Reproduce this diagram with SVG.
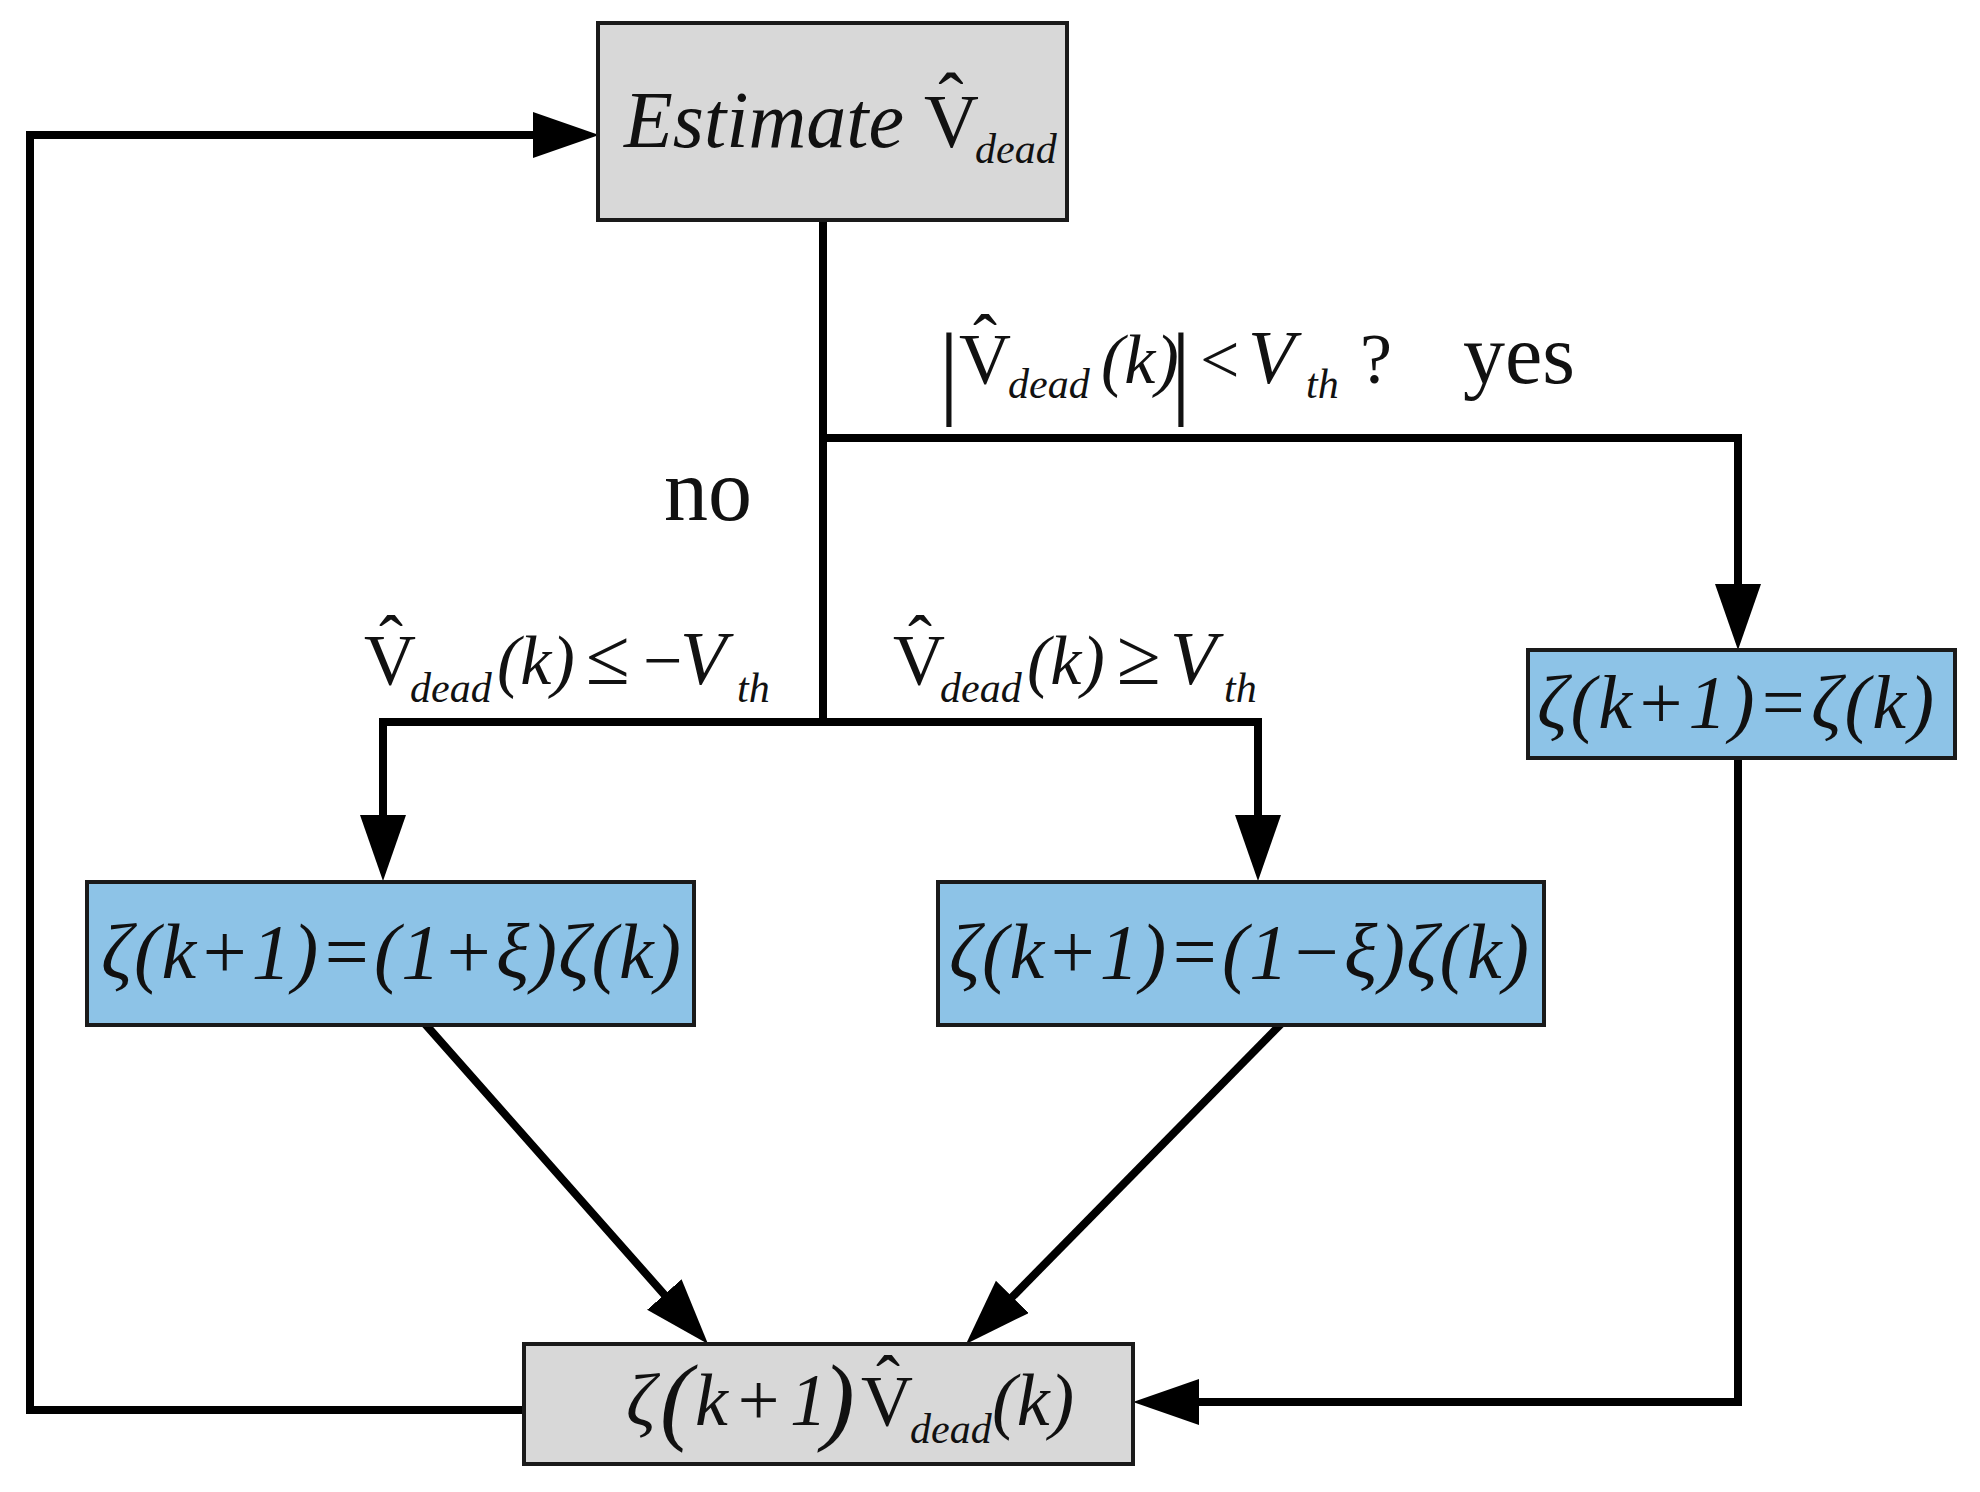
<svg xmlns="http://www.w3.org/2000/svg" width="1980" height="1492" viewBox="0 0 1980 1492">
<style>
.mi{font-family:"Liberation Serif",serif;font-style:italic;fill:#111}
.mo{font-family:"Liberation Serif",serif;font-style:normal;fill:#111}
.up{font-style:normal}
.it{font-style:italic}
.gray{fill:#d8d8d8;stroke:#1a1a1a;stroke-width:4}
.blue{fill:#8dc3e7;stroke:#1a1a1a;stroke-width:4}
.conn{fill:none;stroke:#000;stroke-width:8;stroke-linejoin:miter;stroke-linecap:square}
</style>
<defs>
<marker id="ah" markerUnits="userSpaceOnUse" markerWidth="70" markerHeight="50" refX="6" refY="23" orient="auto">
<path d="M0,0 L66,23 L0,46 z" fill="#000"/>
</marker>
</defs>
<rect width="1980" height="1492" fill="#fff"/>
<g id="connectors">
<path class="conn" d="M823,220 V722"/>
<path class="conn" d="M823,438 H1738 V590" marker-end="url(#ah)"/>
<path class="conn" d="M823,722 H383 V821" marker-end="url(#ah)"/>
<path class="conn" d="M823,722 H1258 V821" marker-end="url(#ah)"/>
<path class="conn" d="M426,1025 L668.3,1299.1" marker-end="url(#ah)"/>
<path class="conn" d="M1280,1025 L1008.1,1301.2" marker-end="url(#ah)"/>
<path class="conn" d="M1738,758 V1402 H1193" marker-end="url(#ah)"/>
<path class="conn" d="M524,1410 H30 V135 H539" marker-end="url(#ah)"/>
</g>
<g id="labels">
<text id="cond" class="mo" y="383" font-size="72"><tspan x="949" y="405" font-size="104" text-anchor="middle">|</tspan><tspan x="959" y="383" font-size="72">V</tspan><tspan x="985" y="364" font-size="72" text-anchor="middle">ˆ</tspan><tspan class="it" x="1008" y="398" font-size="42">dead</tspan><tspan class="it" x="1101" y="383" font-size="70">(k)</tspan><tspan x="1181" y="405" font-size="104" text-anchor="middle">|</tspan><tspan x="1200" y="383" font-size="70">&lt;</tspan><tspan class="it" x="1248" font-size="76">V</tspan><tspan class="it" x="1306" y="398" font-size="42">th</tspan><tspan x="1360" y="383" font-size="72">?</tspan></text>
<text class="mo" x="1463" y="383" font-size="84">yes</text>
<text class="mo" x="664" y="520" font-size="88">no</text>
<text id="lbl-left" class="mo" y="684" font-size="72"><tspan x="364">V</tspan><tspan x="391" y="665" text-anchor="middle">ˆ</tspan><tspan class="it" x="410" y="702" font-size="42">dead</tspan><tspan class="it" x="497" y="684" font-size="70">(k)</tspan><tspan x="586" font-size="80">≤</tspan><tspan x="643" font-size="70">−</tspan><tspan class="it" x="680" font-size="76">V</tspan><tspan class="it" x="737" y="702" font-size="42">th</tspan></text>
<text id="lbl-right" class="mo" y="684" font-size="72"><tspan x="893">V</tspan><tspan x="920" y="665" text-anchor="middle">ˆ</tspan><tspan class="it" x="940" y="702" font-size="42">dead</tspan><tspan class="it" x="1027" y="684" font-size="70">(k)</tspan><tspan x="1117" font-size="80">≥</tspan><tspan class="it" x="1170" font-size="76">V</tspan><tspan class="it" x="1224" y="702" font-size="42">th</tspan></text>
</g>
<g id="node-estimate">
<rect class="gray" x="598" y="23" width="469" height="197"/>
<text class="mo" y="147" font-size="80"><tspan class="it" x="624">Estimate</tspan><tspan x="924" font-size="76">V</tspan><tspan x="951" y="126" font-size="76" text-anchor="middle">ˆ</tspan><tspan class="it" x="975" y="163" font-size="42">dead</tspan></text>
</g>
<g id="node-same">
<rect class="blue" x="1528" y="650" width="427" height="108"/>
<text class="mi" x="1537" y="728" font-size="76" textLength="397" lengthAdjust="spacing">ζ(k+1)=ζ(k)</text>
</g>
<g id="node-increase">
<rect class="blue" x="87" y="882" width="607" height="143"/>
<text class="mi" x="101" y="978" font-size="78" textLength="580" lengthAdjust="spacing">ζ(k+1)=(1+ξ)ζ(k)</text>
</g>
<g id="node-decrease">
<rect class="blue" x="938" y="882" width="606" height="143"/>
<text class="mi" x="949" y="978" font-size="78" textLength="580" lengthAdjust="spacing">ζ(k+1)=(1−ξ)ζ(k)</text>
</g>
<g id="node-output">
<rect class="gray" x="524" y="1344" width="609" height="120"/>
<text class="mi" y="1425" font-size="74"><tspan x="626">ζ</tspan><tspan x="660" y="1432" font-size="98">(</tspan><tspan x="695" y="1425" font-size="74">k</tspan><tspan x="733">+</tspan><tspan x="790">1</tspan><tspan x="822" y="1432" font-size="98">)</tspan><tspan class="up" x="861" y="1425" font-size="72">V</tspan><tspan class="up" x="888" y="1405" font-size="72" text-anchor="middle">ˆ</tspan><tspan x="910" y="1443" font-size="42">dead</tspan><tspan x="992" y="1425" font-size="74">(k)</tspan></text>
</g>
</svg>
